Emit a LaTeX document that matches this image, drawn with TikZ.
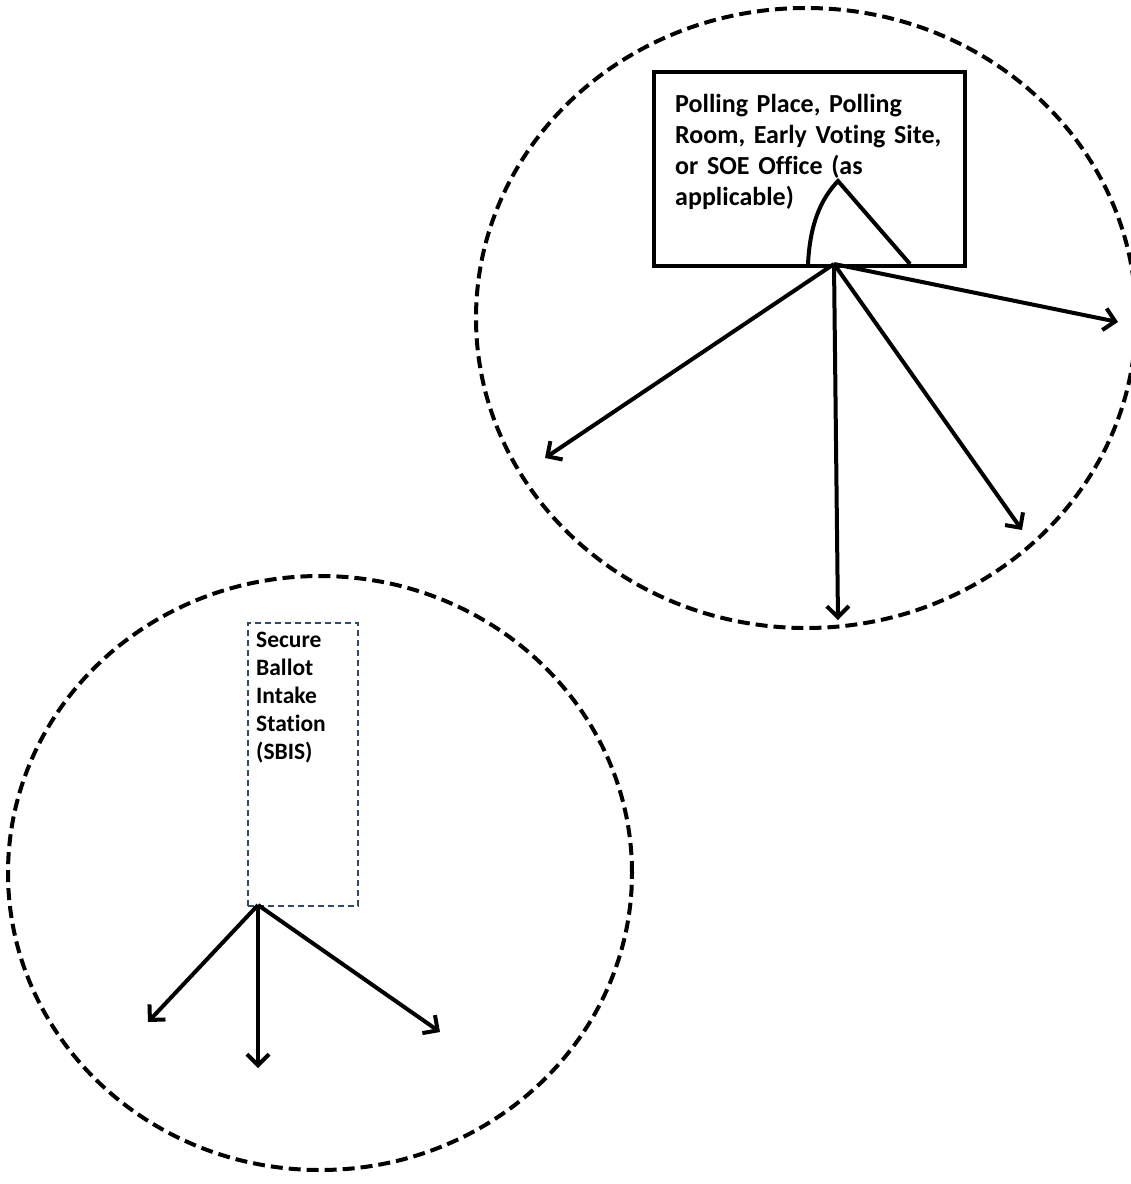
\documentclass[tikz,border=0pt]{standalone}
\usepackage{fontspec}
\setmainfont{Carlito}[Ligatures=NoCommon, WordSpace=0.85]
\usetikzlibrary{arrows.meta}
\definecolor{sbisblue}{HTML}{2E4A68}

\begin{document}
\begin{tikzpicture}[x=1pt, y=-1pt,
    zone/.style={line width=4pt, dash pattern=on 12pt off 6pt},
    flow/.style={line width=4pt, -{Straight Barb[length=11pt,width=22pt]}},
    label/.style={anchor=base west, inner sep=0pt, align=left, font=\bfseries}]
    \useasboundingbox (0,0) rectangle (1131,1184);

    % the two areas
    \draw[zone] (806,318) ellipse [x radius=330pt, y radius=310pt];
    \draw[zone] (320,873) ellipse [x radius=312pt, y radius=297pt];

    % polling place
    \node[draw, line width=4pt, minimum width=311pt, minimum height=194pt, anchor=north west] (poll) at (652,70) {};
    \node[label, text width=280pt, font=\bfseries\fontsize{26}{31}\selectfont] (polltext) at (675,112)
        {Polling Place, Polling\\ Room, Early Voting Site,\\ or SOE Office (as\\ applicable)};
    \draw[line width=4pt] (808,264) .. controls (810,225) and (820,200) .. (838,181) -- (910,264);

    % ballot intake station
    \node[draw=sbisblue, line width=2.2pt, dash pattern=on 6pt off 4pt, minimum width=110pt, minimum height=283pt, anchor=north west] (sbis) at (247,622) {};
    \node[label, text width=95pt, font=\bfseries\fontsize{23.5}{28}\selectfont] (sbistext) at (256,647)
        {Secure\\ Ballot\\ Intake\\ Station\\ (SBIS)};

    \coordinate (pollhub) at (834,264);
    \coordinate (sbishub) at (258,905);

    \coordinate (p1) at (545,458);
    \coordinate (p2) at (838,620);
    \coordinate (p3) at (1022,530);
    \coordinate (p4) at (1118,322);
    \coordinate (s1) at (148,1022);
    \coordinate (s2) at (258,1068);
    \coordinate (s3) at (440,1032);

    \foreach \e in {p1,p2,p3,p4}
        \draw[flow] (pollhub) -- (\e);
    \foreach \e in {s1,s2,s3}
        \draw[flow] (sbishub) -- (\e);
\end{tikzpicture}
\end{document}
